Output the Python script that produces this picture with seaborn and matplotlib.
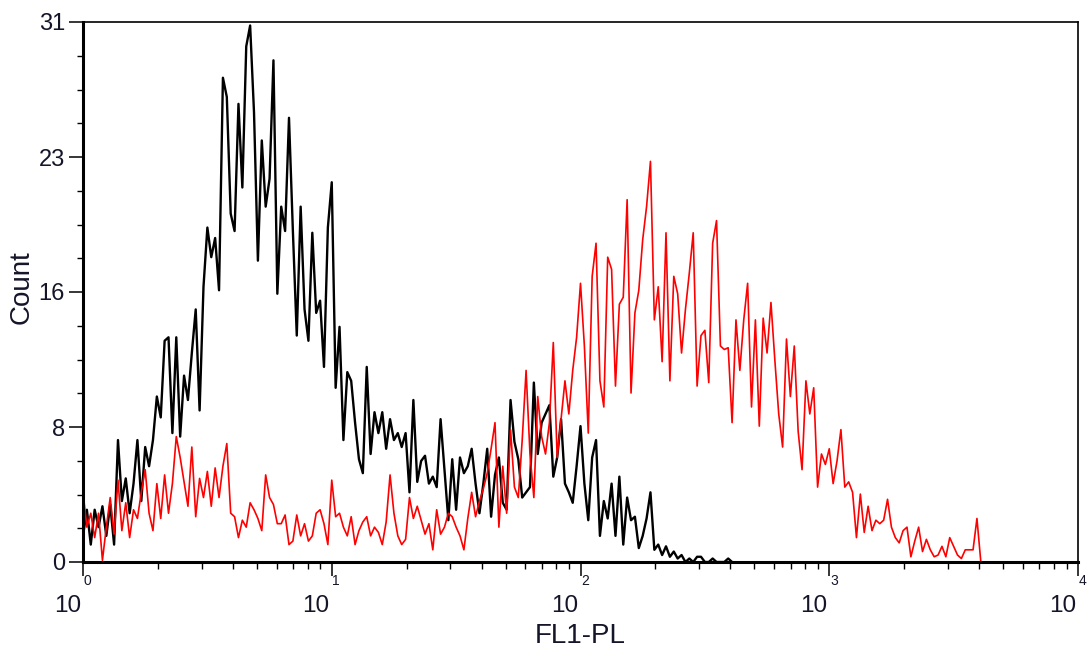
import numpy as np
import pandas as pd
import matplotlib
matplotlib.use("Agg")
import matplotlib.pyplot as plt
import seaborn as sns
from matplotlib.ticker import FixedLocator, NullFormatter, LogLocator

# ---------------- data (counts per log channel, 256 channels over 4 decades) -------------
n_channels = 256
decades = 4

black_counts = [
    1.5, 3.0, 1.0, 3.0, 2.0, 3.2, 1.5, 3.3, 1.0, 7.0,
    3.5, 4.8, 2.8, 4.5, 7.0, 3.5, 6.6, 5.5, 7.0, 9.5,
    8.3, 12.7, 12.9, 7.4, 12.9, 7.2, 10.7, 9.3, 12.0, 14.5,
    8.7, 15.8, 19.2, 17.5, 18.6, 15.6, 27.8, 26.7, 20.0, 19.0,
    26.3, 21.5, 29.6, 30.8, 25.8, 17.3, 24.2, 20.4, 22.0, 28.8,
    15.4, 20.4, 19.0, 25.5, 19.0, 13.0, 20.4, 14.5, 12.7, 18.9,
    14.3, 15.0, 11.2, 19.2, 21.8, 10.0, 13.5, 7.0, 10.9, 10.4,
    8.0, 5.9, 5.1, 11.2, 6.2, 8.6, 7.4, 8.6, 6.5, 8.2,
    7.0, 7.4, 6.6, 7.4, 4.0, 9.3, 4.6, 5.8, 6.1, 4.5,
    4.9, 4.3, 8.2, 5.3, 2.4, 5.9, 3.0, 6.0, 5.1, 5.5,
    6.5, 4.5, 2.8, 4.5, 6.5, 2.6, 5.0, 6.0, 3.4, 3.0,
    9.3, 6.9, 5.9, 3.7, 4.0, 4.3, 10.3, 6.2, 8.0, 8.5,
    9.0, 4.9, 6.0, 8.2, 4.5, 4.0, 3.4, 5.5, 7.8, 4.5,
    2.4, 6.0, 7.0, 1.5, 3.5, 2.5, 4.5, 1.5, 4.9, 1.0,
    3.7, 2.4, 2.6, 0.8, 1.5, 2.5, 4.0, 0.7, 1.0, 0.4,
    0.9, 0.3, 0.6, 0.2, 0.4, 0.0, 0.2, 0.0, 0.3, 0.3,
    0.0, 0.0, 0.2, 0.0, 0.0, 0.0, 0.2, 0.0,
]

red_counts = [
    4.0, 2.0, 2.8, 1.4, 2.8, 0.1, 2.0, 3.7, 1.6, 4.7,
    1.8, 3.4, 1.4, 3.0, 2.5, 4.0, 5.3, 2.8, 1.8, 4.5,
    2.5, 5.0, 2.8, 4.5, 7.2, 6.0, 4.6, 3.2, 6.6, 2.6,
    4.8, 3.7, 5.2, 3.2, 5.4, 3.7, 5.5, 6.8, 2.8, 2.6,
    1.4, 2.4, 2.0, 3.4, 3.0, 2.5, 1.8, 5.0, 3.7, 3.3,
    2.2, 2.2, 2.7, 1.0, 1.2, 2.7, 1.5, 2.2, 1.2, 1.5,
    2.8, 3.0, 2.2, 1.0, 4.7, 2.6, 2.8, 2.0, 1.5, 2.6,
    1.0, 1.8, 2.3, 2.6, 1.5, 2.0, 1.7, 1.0, 2.3, 5.0,
    2.8, 1.5, 1.0, 1.3, 3.7, 2.5, 3.2, 2.4, 1.6, 2.2,
    0.7, 3.0, 1.6, 2.0, 2.8, 2.6, 2.0, 1.5, 0.7, 2.5,
    4.0, 2.6, 3.5, 4.2, 5.1, 6.5, 8.0, 2.0, 5.5, 2.8,
    7.6, 4.3, 3.7, 7.0, 11.0, 6.2, 3.7, 9.5, 7.2, 6.2,
    8.0, 12.6, 6.0, 8.2, 10.4, 8.5, 11.0, 12.9, 16.0, 12.4,
    7.4, 16.4, 18.3, 10.4, 8.9, 17.5, 16.8, 10.1, 14.8, 15.2,
    20.8, 9.7, 14.3, 15.6, 18.5, 20.4, 23.0, 13.9, 15.8, 11.5,
    18.9, 10.4, 16.4, 15.4, 12.0, 14.5, 16.6, 18.9, 10.1, 13.0,
    13.3, 10.3, 18.3, 19.6, 12.4, 12.2, 12.3, 8.0, 13.9, 11.0,
    13.9, 16.0, 8.9, 13.9, 7.8, 14.0, 12.0, 14.9, 11.6, 8.5,
    6.6, 12.8, 9.5, 12.4, 7.5, 5.3, 10.4, 8.5, 10.0, 4.3,
    6.2, 5.6, 6.5, 4.5, 5.8, 7.6, 4.3, 4.6, 4.0, 1.4,
    3.9, 1.7, 3.2, 1.8, 2.4, 2.2, 2.4, 3.6, 2.0, 1.4,
    1.1, 1.8, 2.0, 0.3, 1.2, 2.0, 0.6, 1.3, 0.7, 0.3,
    0.4, 0.9, 0.3, 1.4, 0.9, 0.4, 0.2, 0.7, 0.7, 0.7,
    2.5, 0.0,
]

y_tick_values = [0, 7.75, 15.5, 23.25, 31]
y_tick_labels = ["0", "8", "16", "23", "31"]
x_decades = [0, 1, 2, 3, 4]

x_label = "FL1-PL"
y_label = "Count"

# ---------------- build tidy data ----------------
def to_frame(counts, name):
    ch = np.arange(len(counts))
    return pd.DataFrame({
        "FL1": 10.0 ** (ch * decades / n_channels),
        "Count": counts,
        "sample": name,
    })

df_black = to_frame(black_counts, "control")
df_red = to_frame(red_counts, "stained")

# ---------------- style ----------------
sns.set_style("ticks")
plt.rcParams["font.family"] = ["Liberation Sans", "DejaVu Sans"]
text_color = "#15152a"

fig = plt.figure(figsize=(10.89, 6.53), dpi=100)
ax = fig.add_axes([83 / 1089, 1 - 562 / 653, (1078 - 83) / 1089, (562 - 22) / 653])

sns.lineplot(data=df_black, x="FL1", y="Count", color="black", linewidth=1.7,
             ax=ax, legend=False, estimator=None, sort=False)
sns.lineplot(data=df_red, x="FL1", y="Count", color="#ff0000", linewidth=1.2,
             ax=ax, legend=False, estimator=None, sort=False)

ax.set_xscale("log")
ax.set_xlim(1, 1e4)
ax.set_ylim(0, 31)

# spines
for side in ["left", "bottom"]:
    ax.spines[side].set_linewidth(2.2)
for side in ["top", "right"]:
    ax.spines[side].set_linewidth(1.2)
for s in ax.spines.values():
    s.set_color("black")

# y ticks
ax.yaxis.set_major_locator(FixedLocator(y_tick_values))
ax.set_yticklabels(y_tick_labels)
minor_y = [v + k * 7.75 / 4 for v in y_tick_values[:-1] for k in (1, 2, 3)]
ax.yaxis.set_minor_locator(FixedLocator(minor_y))
ax.tick_params(axis="y", which="major", length=10, width=1.1, direction="out",
               labelsize=17, colors="black", labelcolor=text_color, pad=3)
ax.tick_params(axis="y", which="minor", length=4.5, width=1.0, direction="out", colors="black")

# x ticks (log)
ax.xaxis.set_major_locator(FixedLocator([10.0 ** d for d in x_decades]))
ax.xaxis.set_minor_locator(LogLocator(base=10, subs=np.arange(2, 10), numticks=20))
ax.xaxis.set_major_formatter(NullFormatter())
ax.xaxis.set_minor_formatter(NullFormatter())
ax.tick_params(axis="x", which="major", length=10, width=1.1, direction="out", colors="black")
ax.tick_params(axis="x", which="minor", length=5, width=1.0, direction="out", colors="black")

# custom "10 with exponent below-right" tick labels
for d in x_decades:
    xv = 10.0 ** d
    ax.annotate(str(d), xy=(xv, 0), xycoords=("data", "axes fraction"),
                xytext=(0.5, -13.5), textcoords="offset points",
                ha="left", va="center", fontsize=10, color=text_color,
                annotation_clip=False)
    ax.annotate("10", xy=(xv, 0), xycoords=("data", "axes fraction"),
                xytext=(-1.5, -31.5), textcoords="offset points",
                ha="right", va="center", fontsize=17.5, color=text_color,
                annotation_clip=False)

ax.set_xlabel("")
ax.set_ylabel("")
fig.text(580 / 1089, 1 - 636 / 653, x_label, ha="center", va="center",
         fontsize=20, color=text_color)
fig.text(22 / 1089, 1 - 287 / 653, y_label, ha="center", va="center",
         rotation=90, fontsize=20, color=text_color)

fig.savefig("out.png", dpi=100, facecolor="white")
